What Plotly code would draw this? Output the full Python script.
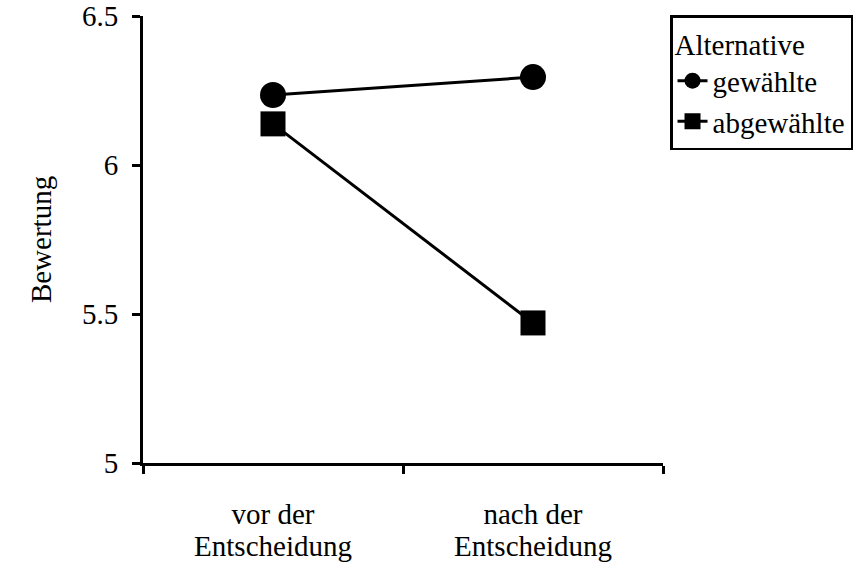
import plotly.graph_objects as go

categories = ["vor der Entscheidung", "nach der Entscheidung"]
label_line1 = ["vor der", "nach der"]
label_line2 = ["Entscheidung", "Entscheidung"]
gewaehlte = [6.235, 6.295]
abgewaehlte = [6.138, 5.470]
y_ticks = [5, 5.5, 6, 6.5]
y_ticklabels = ["5", "5.5", "6", "6.5"]

FONT = "Liberation Serif, Times New Roman, serif"
FS = 29

fig = go.Figure()
fig.add_trace(go.Scatter(
    x=categories, y=gewaehlte, name="gewählte", mode="lines+markers",
    line=dict(color="black", width=3),
    marker=dict(symbol="circle", size=26, color="black"),
))
fig.add_trace(go.Scatter(
    x=categories, y=abgewaehlte, name="abgewählte", mode="lines+markers",
    line=dict(color="black", width=3),
    marker=dict(symbol="square", size=25, color="black"),
))
# invisible helper so the overlay axis (first label line) knows the categories
fig.add_trace(go.Scatter(
    x=categories, y=gewaehlte, xaxis="x2", mode="markers",
    marker=dict(opacity=0, size=1), showlegend=False, hoverinfo="skip",
))

fig.update_layout(
    width=867, height=564,
    margin=dict(l=143, r=204, t=16, b=101, autoexpand=False),
    paper_bgcolor="white", plot_bgcolor="white",
    font=dict(family=FONT, size=FS, color="black"),
    showlegend=True,
    legend=dict(
        title=dict(text="Alternative", font=dict(size=FS)),
        x=1.0135, y=1.002, xanchor="left", yanchor="top",
        bordercolor="black", borderwidth=2.5, bgcolor="white",
        font=dict(size=FS), itemsizing="trace",
        tracegroupgap=0,
    ),
    xaxis=dict(
        type="category", tickson="boundaries", ticks="outside", ticklen=8,
        tickwidth=3, tickcolor="black", showline=True, linecolor="black",
        linewidth=3, showgrid=False, zeroline=False, automargin=False,
        tickmode="array", tickvals=categories, ticktext=label_line2,
        tickfont=dict(size=FS), ticklabelstandoff=55,
        ticklabeloverflow="allow",
        range=[-0.5, 1.5],
    ),
    xaxis2=dict(
        type="category", overlaying="x", anchor="y", side="bottom",
        matches="x", showline=False, ticks="", showgrid=False,
        zeroline=False, automargin=False,
        tickmode="array", tickvals=categories, ticktext=label_line1,
        tickfont=dict(size=FS), ticklabelstandoff=31,
        ticklabeloverflow="allow",
    ),
    yaxis=dict(
        range=[5, 6.5], tickvals=y_ticks, ticktext=y_ticklabels,
        ticks="outside", ticklen=8, tickwidth=3, tickcolor="black",
        showline=True, linecolor="black", linewidth=3, automargin=False,
        showgrid=False, zeroline=False, tickfont=dict(size=FS),
        ticklabelstandoff=8, ticklabeloverflow="allow",
        title=dict(text="Bewertung", font=dict(size=FS), standoff=22),
    ),
)

fig.write_html(
    "out.html",
    config={"displayModeBar": False},
    post_script="document.body.style.margin='0';",
)
